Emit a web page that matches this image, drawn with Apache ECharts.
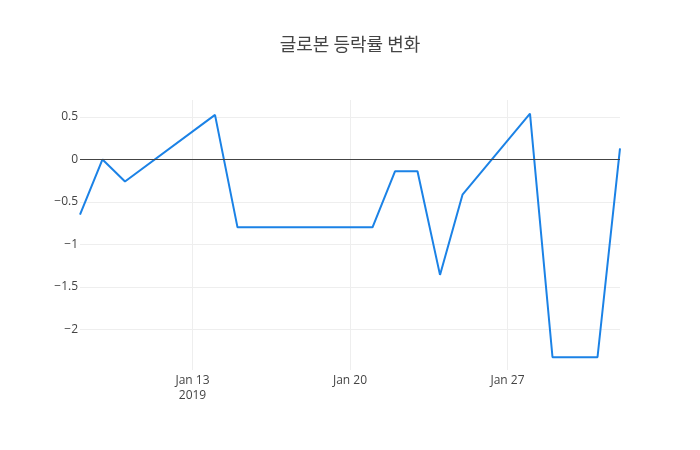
<!DOCTYPE html>
<html>
<head>
<meta charset="utf-8">
<script src="https://cdn.jsdelivr.net/npm/echarts@6/dist/echarts.min.js"></script>
<style>html,body{margin:0;padding:0;background:#fff}#c{width:700px;height:450px}</style>
</head>
<body>
<div id="c"></div>
<script>
const dates = ['2019-01-08','2019-01-09','2019-01-10','2019-01-14','2019-01-15','2019-01-21','2019-01-22','2019-01-23','2019-01-24','2019-01-25','2019-01-28','2019-01-29','2019-01-31','2019-02-01'];
const values = [-0.65, 0, -0.26, 0.525, -0.80, -0.80, -0.14, -0.14, -1.36, -0.415, 0.54, -2.33, -2.33, 0.13];
const xTickDates = ['2019-01-13','2019-01-20','2019-01-27'];
const yTicks = [0.5, 0, -0.5, -1, -1.5, -2];
const titleText = '글로본 등락률 변화';

function ts(s){ const p = s.split('-').map(Number); return new Date(p[0], p[1]-1, p[2]).getTime(); }
const xTickTs = xTickDates.map(ts);
const months = ['Jan','Feb','Mar','Apr','May','Jun','Jul','Aug','Sep','Oct','Nov','Dec'];
const font = '"Open Sans", "Noto Sans", sans-serif';

const chart = echarts.init(document.getElementById('c'), null, {renderer:'canvas'});
chart.setOption({
  animation: false,
  backgroundColor: '#fff',
  title: {
    text: titleText, left: 'center', top: 30,
    textStyle: {fontFamily: '"Noto Sans CJK KR", "Open Sans", sans-serif', fontSize: 18, fontWeight: 'normal', color: '#444'}
  },
  grid: {left: 80, right: 80, top: 100, bottom: 80, containLabel: false},
  xAxis: {
    type: 'value',
    min: ts(dates[0]), max: ts(dates[dates.length-1]),
    axisLine: {show: false},
    axisTick: {show: false, customValues: xTickTs},
    axisLabel: {
      customValues: xTickTs,
      margin: 3,
      color: '#444', fontSize: 12, fontFamily: font, lineHeight: 15,
      formatter: function(v){
        const d = new Date(v);
        let s = months[d.getMonth()] + ' ' + d.getDate();
        if (v === xTickTs[0]) s += '\n' + d.getFullYear();
        return s;
      }
    },
    splitLine: {show: true, lineStyle: {color: '#eee', width: 1}}
  },
  yAxis: {
    type: 'value',
    min: -2.48, max: 0.70,
    axisLine: {show: false},
    axisTick: {show: false, customValues: yTicks},
    axisLabel: {
      customValues: yTicks,
      margin: 2,
      color: '#444', fontSize: 12, fontFamily: font,
      formatter: function(v){ return String(v).replace('-', '\u2212'); }
    },
    splitLine: {show: true, lineStyle: {color: '#eee', width: 1}}
  },
  series: [{
    type: 'line',
    data: dates.map((d,i)=>[ts(d), values[i]]),
    showSymbol: false,
    symbol: 'none',
    lineStyle: {color: '#1b82e6', width: 2},
    itemStyle: {color: '#1b82e6'},
    markLine: {
      silent: true, symbol: 'none', label: {show: false},
      lineStyle: {color: '#444', width: 1, type: 'solid'},
      data: [{yAxis: 0}]
    },
    z: 3
  }]
});
</script>
</body>
</html>
